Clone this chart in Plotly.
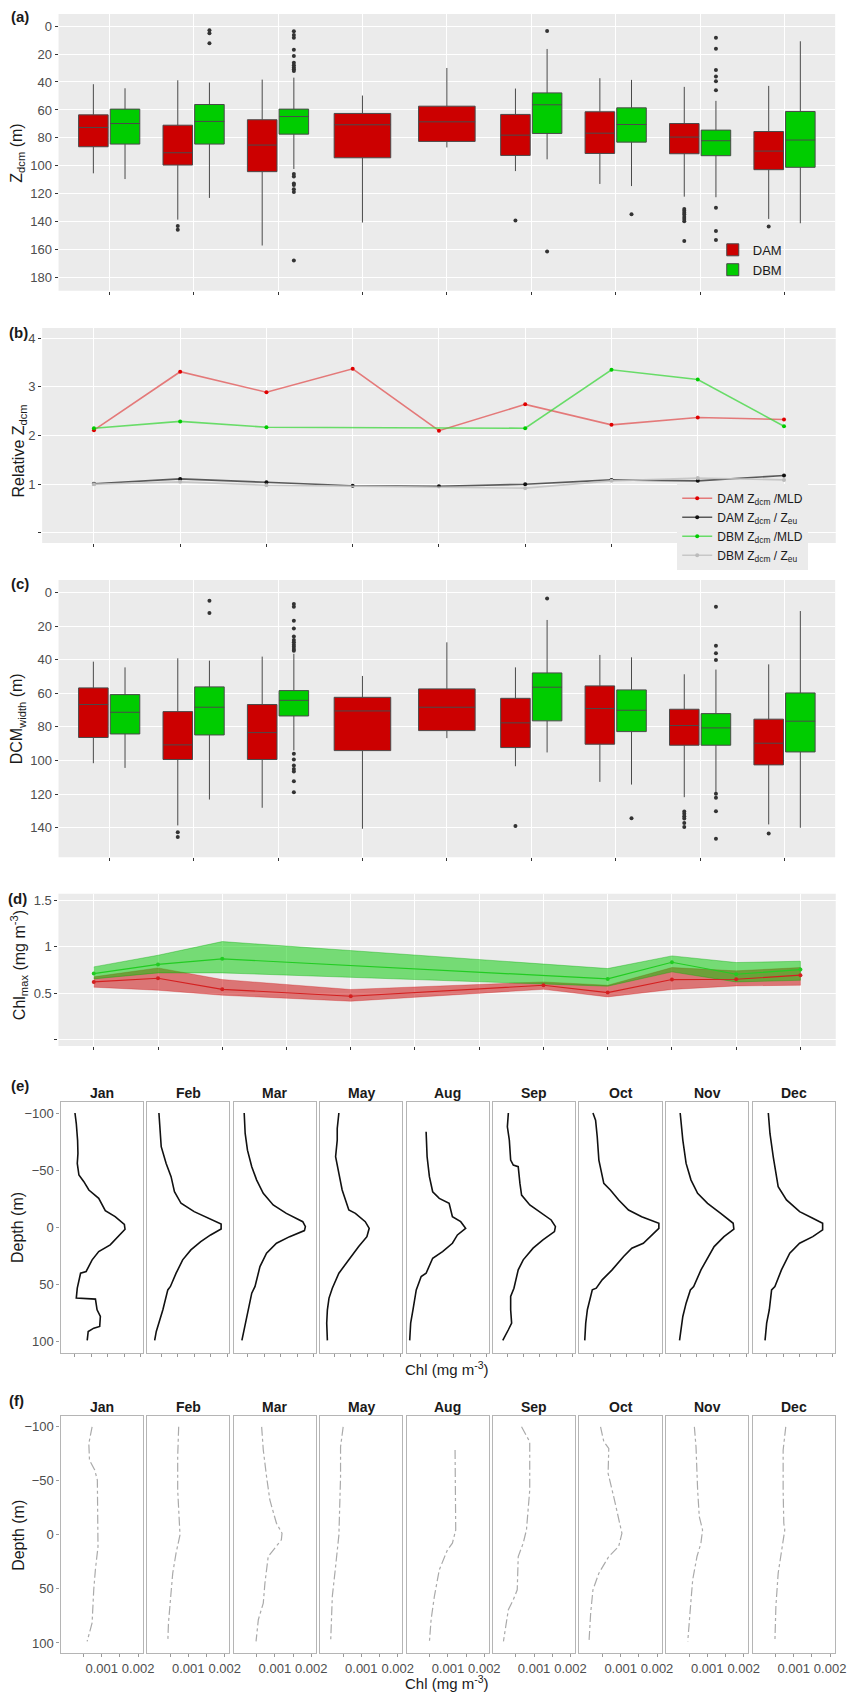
import plotly.graph_objects as go

W, H = 859, 1692
NARROW = "Liberation Sans Narrow, Arial Narrow, Liberation Sans, Arial, sans-serif"
REG = "Liberation Sans, Arial, sans-serif"

months9 = ["Jan", "Feb", "Mar", "May", "Aug", "Sep", "Oct", "Nov", "Dec"]
month_num = [1, 2, 3, 5, 8, 9, 10, 11, 12]

# ---------------- (a) Z_dcm boxplots (m) ----------------
a_dam_lo = [41.6, 38.8, 38.3, 49.7, 30.0, 44.7, 37.3, 43.5, 42.8]
a_dam_q1 = [63.5, 70.9, 67.0, 62.5, 57.3, 63.2, 61.3, 69.7, 75.4]
a_dam_med = [72.5, 90.6, 85.1, 70.6, 68.5, 78.0, 76.6, 79.4, 89.4]
a_dam_q3 = [86.3, 99.4, 104.1, 94.2, 82.5, 92.5, 91.1, 91.3, 102.7]
a_dam_hi = [105.3, 138.4, 156.9, 140.5, 86.8, 103.7, 112.9, 122.0, 137.9]
a_dbm_lo = [44.5, 40.4, 36.9, None, None, 16.4, 38.5, 53.5, 10.9]
a_dbm_q1 = [59.4, 56.1, 59.4, None, None, 47.8, 58.5, 74.4, 61.1]
a_dbm_med = [69.7, 68.2, 64.7, None, None, 56.3, 70.4, 82.0, 81.5]
a_dbm_q3 = [84.4, 84.4, 77.3, None, None, 76.8, 83.0, 92.7, 101.0]
a_dbm_hi = [109.4, 122.9, 102.2, None, None, 95.3, 114.4, 122.4, 141.0]
a_dam_out_month = ["Feb", "Feb", "Sep", "Nov", "Nov", "Nov", "Nov", "Nov", "Nov", "Nov", "Nov", "Dec"]
a_dam_out_val = [142.9, 145.7, 139.1, 130.8, 132.0, 133.4, 134.8, 136.5, 137.9, 139.6, 153.6, 143.4]
a_dbm_out_month = ["Feb", "Feb", "Feb",
                   "Mar", "Mar", "Mar", "Mar", "Mar", "Mar", "Mar", "Mar", "Mar", "Mar",
                   "Mar", "Mar", "Mar", "Mar", "Mar", "Mar", "Mar",
                   "Sep", "Sep", "Oct",
                   "Nov", "Nov", "Nov", "Nov", "Nov", "Nov", "Nov", "Nov", "Nov"]
a_dbm_out_val = [3.1, 5.2, 12.4,
                 3.8, 6.4, 8.3, 16.9, 21.4, 26.2, 28.1, 29.7, 30.9, 32.1,
                 105.8, 107.5, 112.5, 113.7, 116.7, 118.6, 167.6,
                 3.6, 161.2, 134.6,
                 8.3, 16.2, 31.4, 36.1, 39.5, 45.9, 130.0, 146.5, 152.9]

# ---------------- (b) relative Z_dcm ----------------
b_dam_mld = [2.11, 3.31, 2.89, 3.37, 2.10, 2.64, 2.22, 2.37, 2.33]
b_dam_zeu = [1.01, 1.11, 1.04, 0.97, 0.96, 1.00, 1.09, 1.07, 1.18]
b_dbm_mld = [2.15, 2.29, 2.17, None, None, 2.15, 3.35, 3.15, 2.19]
b_dbm_zeu = [1.00, 1.05, 0.98, None, None, 0.92, 1.07, 1.13, 1.09]

# ---------------- (c) DCM width boxplots (m) ----------------
c_dam_lo = [41.2, 39.2, 38.2, 49.7, 29.7, 44.6, 37.2, 48.7, 42.8]
c_dam_q1 = [56.8, 70.9, 66.7, 62.4, 57.4, 63.0, 55.6, 69.5, 75.4]
c_dam_med = [66.7, 90.7, 83.4, 70.5, 68.3, 77.6, 69.1, 79.2, 89.7]
c_dam_q3 = [86.3, 99.4, 99.4, 94.1, 82.2, 92.3, 90.3, 90.9, 102.6]
c_dam_hi = [101.6, 138.6, 128.1, 140.6, 86.7, 103.4, 112.7, 121.8, 138.0]
c_dbm_lo = [44.6, 40.6, 36.5, None, None, 16.4, 38.6, 45.9, 11.1]
c_dbm_q1 = [60.8, 56.2, 58.4, None, None, 47.9, 58.0, 72.1, 59.8]
c_dbm_med = [71.3, 68.3, 64.2, None, None, 56.4, 70.1, 80.6, 76.6]
c_dbm_q3 = [84.2, 84.8, 73.5, None, None, 76.4, 82.8, 90.9, 94.9]
c_dbm_hi = [104.4, 123.2, 94.0, None, None, 95.2, 114.3, 119.2, 140.0]
c_dam_out_month = ["Feb", "Feb", "Sep", "Nov", "Nov", "Nov", "Nov", "Nov", "Nov", "Dec"]
c_dam_out_val = [142.6, 145.5, 139.0, 130.3, 131.7, 133.1, 134.5, 137.2, 139.6, 143.4]
c_dbm_out_month = ["Feb", "Feb",
                   "Mar", "Mar", "Mar", "Mar", "Mar", "Mar", "Mar", "Mar", "Mar", "Mar", "Mar",
                   "Mar", "Mar", "Mar", "Mar", "Mar", "Mar", "Mar",
                   "Sep", "Oct",
                   "Nov", "Nov", "Nov", "Nov", "Nov", "Nov", "Nov", "Nov"]
c_dbm_out_val = [5.0, 12.3,
                 6.9, 8.5, 16.8, 21.4, 26.3, 28.3, 29.7, 31.1, 32.3, 33.7, 34.7,
                 96.0, 99.4, 103.0, 105.0, 106.5, 112.3, 118.8,
                 3.6, 134.3,
                 8.5, 31.7, 36.2, 40.2, 119.8, 122.2, 130.1, 146.5]

# ---------------- (d) Chl max (mg m-3) ----------------
d_dam_mean = [0.62, 0.66, 0.54, 0.465, 0.584, 0.505, 0.646, 0.649, 0.693]
d_dam_hi = [0.675, 0.772, 0.646, 0.538, 0.62, 0.584, 0.776, 0.74, 0.776]
d_dam_lo = [0.563, 0.53, 0.476, 0.411, 0.54, 0.458, 0.538, 0.577, 0.584]
d_dbm_mean = [0.71, 0.81, 0.87, None, None, 0.653, 0.833, 0.703, 0.754]
d_dbm_hi = [0.783, 0.909, 1.057, None, None, 0.765, 0.902, 0.83, 0.844]
d_dbm_lo = [0.653, 0.718, 0.718, None, None, 0.574, 0.729, 0.62, 0.638]

# ---------------- (e) mean Chl profiles vs depth relative to DCM ----------------
e_jan_z = [-100, -90.8, -76, -64.6, -55.9, -45.7, -39.9, -32.6, -25.3, -14.6, -9.3, -2.6, 1.7, 8.2, 15.4, 21.3, 28.5, 38.7, 40.2, 53.3, 62.0, 62.9, 72.2, 78.1, 86.8, 88.3, 91.2, 99.0]
e_jan_chl = [0.203, 0.219, 0.235, 0.239, 0.231, 0.251, 0.311, 0.372, 0.492, 0.572, 0.692, 0.804, 0.812, 0.732, 0.632, 0.492, 0.412, 0.339, 0.271, 0.231, 0.219, 0.452, 0.472, 0.512, 0.504, 0.432, 0.364, 0.352]
e_feb_z = [-100, -87.9, -70.5, -55.9, -44.3, -31.1, -21.0, -13.7, -7.9, -2.9, 1.5, 6.7, 12.5, 19.8, 28.5, 40.2, 51.8, 54.8, 72.2, 81.0, 91.2, 99.0]
e_feb_chl = [0.171, 0.179, 0.199, 0.259, 0.319, 0.36, 0.44, 0.6, 0.78, 0.928, 0.928, 0.8, 0.68, 0.56, 0.46, 0.38, 0.311, 0.279, 0.219, 0.179, 0.139, 0.119]
e_mar_z = [-100, -82.1, -67.5, -53.0, -41.3, -29.7, -19.5, -12.2, -4.9, -0.6, 2.9, 8.2, 14.0, 22.7, 34.4, 51.8, 57.7, 72.2, 83.9, 99.0]
e_mar_chl = [0.155, 0.167, 0.195, 0.247, 0.307, 0.387, 0.508, 0.668, 0.868, 0.9, 0.888, 0.708, 0.548, 0.427, 0.347, 0.287, 0.247, 0.207, 0.167, 0.127]
e_may_z = [-100, -86.5, -76.3, -61.7, -47.2, -32.6, -15.1, -12.2, -4.9, 0.9, 8.2, 16.9, 28.5, 40.2, 53.3, 62.0, 72.2, 83.9, 99.0]
e_may_chl = [0.255, 0.235, 0.235, 0.215, 0.255, 0.295, 0.376, 0.456, 0.576, 0.624, 0.596, 0.496, 0.376, 0.255, 0.175, 0.135, 0.115, 0.107, 0.115]
e_aug_z = [-83.6, -61.7, -44.3, -31.1, -25.3, -21.0, -9.3, -4.9, 0.9, 6.7, 14.0, 21.3, 27.1, 40.2, 43.1, 54.8, 72.2, 83.9, 99.0]
e_aug_chl = [0.263, 0.275, 0.303, 0.343, 0.423, 0.543, 0.583, 0.684, 0.744, 0.644, 0.583, 0.463, 0.343, 0.263, 0.203, 0.143, 0.103, 0.075, 0.063]
e_sep_z = [-100, -87.9, -76.3, -58.8, -54.4, -53.0, -38.4, -28.2, -19.5, -12.2, -6.4, -0.6, 3.8, 11.1, 18.3, 28.5, 37.3, 53.3, 60.6, 72.2, 83.9, 89.7, 99.0]
e_sep_chl = [0.215, 0.203, 0.227, 0.243, 0.275, 0.335, 0.356, 0.376, 0.476, 0.616, 0.736, 0.788, 0.776, 0.636, 0.516, 0.396, 0.335, 0.283, 0.243, 0.243, 0.255, 0.215, 0.147]
e_oct_z = [-100, -93.7, -79.2, -58.8, -38.4, -32.6, -23.9, -15.1, -9.3, -3.5, 0.9, 6.7, 14.0, 18.3, 25.6, 37.3, 46.0, 53.3, 54.8, 72.2, 83.9, 99.0]
e_oct_chl = [0.191, 0.223, 0.243, 0.263, 0.323, 0.403, 0.504, 0.624, 0.784, 0.993, 0.993, 0.904, 0.804, 0.664, 0.564, 0.424, 0.303, 0.231, 0.183, 0.123, 0.103, 0.091]
e_nov_z = [-100, -76.3, -55.9, -41.3, -29.7, -21.0, -12.2, -3.5, 1.7, 8.2, 16.9, 27.1, 37.3, 51.8, 54.8, 66.4, 78.1, 99.0]
e_nov_chl = [0.199, 0.231, 0.271, 0.331, 0.411, 0.532, 0.692, 0.844, 0.852, 0.732, 0.612, 0.532, 0.452, 0.363, 0.323, 0.271, 0.231, 0.191]
e_dec_z = [-100, -82.1, -61.7, -35.5, -23.9, -13.7, -7.9, -3.5, 2.3, 8.2, 14.0, 22.7, 37.3, 51.8, 54.8, 72.2, 83.9, 99.0]
e_dec_chl = [0.219, 0.239, 0.279, 0.339, 0.44, 0.6, 0.76, 0.88, 0.88, 0.76, 0.6, 0.48, 0.379, 0.299, 0.259, 0.231, 0.199, 0.179]

# ---------------- (f) Chl profiles (mg m-3) ----------------
f_jan_z = [-100, -84.6, -69.2, -60, -50.8, -26.2, 0, 10.8, 32.3, 50.8, 81.5, 98.5]
f_jan_chl = [0.000737, 0.000647, 0.000665, 0.000809, 0.000881, 0.000881, 0.000899, 0.000899, 0.000827, 0.000782, 0.000737, 0.000601]
f_feb_z = [-100, -72.3, -41.5, -10.8, 0, 16.9, 35.4, 60, 81.5, 98.5]
f_feb_chl = [0.000737, 0.00071, 0.00071, 0.000755, 0.000773, 0.000665, 0.000574, 0.000511, 0.000457, 0.000439]
f_mar_z = [-100, -78.5, -53.8, -32.3, -10.8, -1.5, 4.6, 13.8, 20, 44.6, 63.1, 78.5, 98.5]
f_mar_chl = [0.000638, 0.000683, 0.000773, 0.000863, 0.001044, 0.001197, 0.001179, 0.000953, 0.000818, 0.000728, 0.000683, 0.000547, 0.000484]
f_may_z = [-100, -81.5, -53.8, -13.8, 0, 29.2, 56.9, 98.5]
f_may_chl = [0.000502, 0.00043, 0.00043, 0.000403, 0.000385, 0.000294, 0.000204, 0.000159]
f_aug_z = [-78.5, -41.5, -4.6, 7.7, 13.8, 32.3, 56.9, 78.5, 98.5]
f_aug_chl = [0.001197, 0.001215, 0.001215, 0.001124, 0.000989, 0.000764, 0.000629, 0.000539, 0.000494]
f_sep_z = [-100, -86.2, -41.5, -4.6, 7.7, 20, 50.8, 60, 69.2, 98.5]
f_sep_chl = [0.000656, 0.000881, 0.000881, 0.000791, 0.000701, 0.000565, 0.000538, 0.00043, 0.000294, 0.000159]
f_oct_z = [-100, -86.2, -80, -56.9, -35.4, -13.8, -1.5, 10.8, 20, 35.4, 50.8, 72.3, 98.5]
f_oct_chl = [0.000448, 0.000538, 0.000674, 0.000656, 0.000809, 0.000945, 0.001035, 0.000945, 0.000674, 0.000403, 0.00024, 0.000177, 0.000132]
f_nov_z = [-100, -81.5, -41.5, -16.9, -4.6, 7.7, 20, 41.5, 60, 98.5]
f_nov_chl = [0.000647, 0.000692, 0.000737, 0.000782, 0.000872, 0.000827, 0.000719, 0.000601, 0.000556, 0.000466]
f_dec_z = [-100, -78.5, -41.5, -10.8, -4.6, 13.8, 35.4, 66.2, 98.5]
f_dec_chl = [0.000782, 0.00071, 0.00071, 0.000728, 0.000755, 0.000665, 0.000574, 0.000511, 0.000484]

e_profiles = [(e_jan_z, e_jan_chl), (e_feb_z, e_feb_chl), (e_mar_z, e_mar_chl), (e_may_z, e_may_chl),
              (e_aug_z, e_aug_chl), (e_sep_z, e_sep_chl), (e_oct_z, e_oct_chl), (e_nov_z, e_nov_chl),
              (e_dec_z, e_dec_chl)]
f_profiles = [(f_jan_z, f_jan_chl), (f_feb_z, f_feb_chl), (f_mar_z, f_mar_chl), (f_may_z, f_may_chl),
              (f_aug_z, f_aug_chl), (f_sep_z, f_sep_chl), (f_oct_z, f_oct_chl), (f_nov_z, f_nov_chl),
              (f_dec_z, f_dec_chl)]

# ---------------- styling constants ----------------
DAM_FILL = "#CC0000"
DBM_FILL = "#00CC00"
PANEL_BG = "#EBEBEB"
TICK_FONT = dict(family=NARROW, size=13, color="#4D4D4D")
DODGE = 0.1875
PAIR_W = 0.35
SINGLE_W = 0.67


def px(x):
    return x / W


def py(y):
    return 1 - y / H


fig = go.Figure()
layout = dict(width=W, height=H, margin=dict(l=0, r=0, t=0, b=0),
              paper_bgcolor="white", plot_bgcolor="white",
              font=dict(family=NARROW, size=13, color="#222"),
              showlegend=True)
shapes = []
annotations = []


def gg_axes(n, xdom, ydom, xkw, ykw):
    sfx = "" if n == 1 else str(n)
    base = dict(showgrid=True, gridcolor="white", gridwidth=1, zeroline=False, showline=False,
                ticks="outside", ticklen=3, tickwidth=1, tickcolor="#333333", tickfont=TICK_FONT)
    xa = dict(base, domain=[px(xdom[0]), px(xdom[1])], anchor="y" + sfx, showticklabels=False)
    xa.update(xkw)
    ya = dict(base, domain=[py(ydom[1]), py(ydom[0])], anchor="x" + sfx)
    ya.update(ykw)
    layout["xaxis" + sfx] = xa
    layout["yaxis" + sfx] = ya
    shapes.append(dict(type="rect", xref="x%s domain" % sfx, yref="y%s domain" % sfx,
                       x0=0, x1=1, y0=0, y1=1, fillcolor=PANEL_BG, line=dict(width=0), layer="below"))


def add_boxpanel(n, lo1, q11, me1, q31, hi1, lo2, q12, me2, q32, hi2,
                 out1_m, out1_v, out2_m, out2_v, legend_on):
    sfx = "" if n == 1 else str(n)
    xa, ya = "x" + sfx, "y" + sfx
    pos = {m: i + 1 for i, m in enumerate(months9)}
    paired = [i for i in range(9) if q12[i] is not None]
    single = [i for i in range(9) if q12[i] is None]
    has_dbm = {months9[i]: (q12[i] is not None) for i in range(9)}
    common = dict(whiskerwidth=0, boxpoints=False, hoverinfo="skip", xaxis=xa, yaxis=ya,
                  line=dict(color="#4A4A4A", width=1))
    fig.add_trace(go.Box(x=[pos[months9[i]] - DODGE for i in paired],
                         lowerfence=[lo1[i] for i in paired], q1=[q11[i] for i in paired],
                         median=[me1[i] for i in paired], q3=[q31[i] for i in paired],
                         upperfence=[hi1[i] for i in paired], width=PAIR_W, fillcolor=DAM_FILL,
                         name="DAM", showlegend=legend_on, legendgroup="dam", **common))
    fig.add_trace(go.Box(x=[pos[months9[i]] for i in single],
                         lowerfence=[lo1[i] for i in single], q1=[q11[i] for i in single],
                         median=[me1[i] for i in single], q3=[q31[i] for i in single],
                         upperfence=[hi1[i] for i in single], width=SINGLE_W, fillcolor=DAM_FILL,
                         name="DAM", showlegend=False, legendgroup="dam", **common))
    fig.add_trace(go.Box(x=[pos[months9[i]] + DODGE for i in paired],
                         lowerfence=[lo2[i] for i in paired], q1=[q12[i] for i in paired],
                         median=[me2[i] for i in paired], q3=[q32[i] for i in paired],
                         upperfence=[hi2[i] for i in paired], width=PAIR_W, fillcolor=DBM_FILL,
                         name="DBM", showlegend=legend_on, legendgroup="dbm", **common))
    x1 = [pos[m] - (DODGE if has_dbm[m] else 0) for m in out1_m]
    x2 = [pos[m] + DODGE for m in out2_m]
    fig.add_trace(go.Scatter(x=x1 + x2, y=out1_v + out2_v, mode="markers",
                             marker=dict(color="#333333", size=4), showlegend=False,
                             hoverinfo="skip", xaxis=xa, yaxis=ya))


# ---------------- panel (a) ----------------
gg_axes(1, (59.3, 846), (13, 290),
        dict(range=[0.4, 9.6], tickvals=list(range(1, 10))),
        dict(range=[189.3, -8.6], tickvals=list(range(0, 181, 20))))
add_boxpanel(1, a_dam_lo, a_dam_q1, a_dam_med, a_dam_q3, a_dam_hi,
             a_dbm_lo, a_dbm_q1, a_dbm_med, a_dbm_q3, a_dbm_hi,
             a_dam_out_month, a_dam_out_val, a_dbm_out_month, a_dbm_out_val, True)

# ---------------- panel (b) ----------------
gg_axes(2, (42.7, 846.6), (327.3, 542.3),
        dict(type="category", categoryarray=months9, categoryorder="array", range=[-0.6, 8.6]),
        dict(range=[-0.205, 4.205], tickvals=[0, 1, 2, 3, 4], ticktext=["", "1", "2", "3", "4"]))
b_series = [
    ("DAM Z<sub>dcm</sub> /MLD", b_dam_mld, "rgba(225,60,60,0.65)", "#E00000"),
    ("DAM Z<sub>dcm</sub> / Z<sub>eu</sub>", b_dam_zeu, "rgba(40,40,40,0.75)", "#111111"),
    ("DBM Z<sub>dcm</sub> /MLD", b_dbm_mld, "rgba(60,215,60,0.75)", "#00CC00"),
    ("DBM Z<sub>dcm</sub> / Z<sub>eu</sub>", b_dbm_zeu, "rgba(195,195,195,0.9)", "#BBBBBB"),
]
for name, vals, lc, mc in b_series:
    fig.add_trace(go.Scatter(x=months9, y=vals, mode="lines+markers", name=name,
                             line=dict(color=lc, width=1.6), marker=dict(color=mc, size=4),
                             connectgaps=True, xaxis="x2", yaxis="y2", legend="legend2",
                             hoverinfo="skip"))

# ---------------- panel (c) ----------------
gg_axes(3, (59.3, 846), (579.3, 856.7),
        dict(range=[0.4, 9.6], tickvals=list(range(1, 10))),
        dict(range=[157.5, -7.4], tickvals=list(range(0, 141, 20))))
add_boxpanel(3, c_dam_lo, c_dam_q1, c_dam_med, c_dam_q3, c_dam_hi,
             c_dbm_lo, c_dbm_q1, c_dbm_med, c_dbm_q3, c_dbm_hi,
             c_dam_out_month, c_dam_out_val, c_dbm_out_month, c_dbm_out_val, False)

# ---------------- panel (d) ----------------
gg_axes(4, (59.2, 846.6), (893.3, 1045.7),
        dict(range=[0.45, 12.55], tickvals=list(range(1, 13))),
        dict(range=[-0.075, 1.575], tickvals=[0, 0.5, 1, 1.5], ticktext=["", "0.5", "1", "1.5"]))


def ribbon(mon, lo, hi, fillc, edgec):
    pts = [(m, l, h) for m, l, h in zip(mon, lo, hi) if l is not None]
    xs = [p[0] for p in pts] + [p[0] for p in reversed(pts)]
    ys = [p[2] for p in pts] + [p[1] for p in reversed(pts)]
    fig.add_trace(go.Scatter(x=xs, y=ys, fill="toself", fillcolor=fillc, mode="lines",
                             line=dict(color=edgec, width=0.8), showlegend=False,
                             hoverinfo="skip", xaxis="x4", yaxis="y4"))


def meanline(mon, mean, color):
    pts = [(m, v) for m, v in zip(mon, mean) if v is not None]
    fig.add_trace(go.Scatter(x=[p[0] for p in pts], y=[p[1] for p in pts], mode="lines+markers",
                             line=dict(color=color, width=1.2), marker=dict(color=color, size=4),
                             showlegend=False, hoverinfo="skip", xaxis="x4", yaxis="y4"))


ribbon(month_num, d_dam_lo, d_dam_hi, "rgba(204,0,0,0.5)", "rgba(204,0,0,0.35)")
ribbon(month_num, d_dbm_lo, d_dbm_hi, "rgba(0,204,0,0.5)", "rgba(0,170,0,0.45)")
meanline(month_num, d_dam_mean, "#D42020")
meanline(month_num, d_dbm_mean, "#22CC22")

# ---------------- panels (e) and (f): facets ----------------
facet_left = [61.3, 149.0, 236.7, 324.3, 412.0, 499.3, 587.0, 674.7, 762.3]
FACET_W = 83.4


def facet_row(start_n, profiles, ydom, xrange_, xtickvals, xticktext, showxlabels, line_style, strip_y):
    for k, (z, chl) in enumerate(profiles):
        n = start_n + k
        sfx = str(n)
        L = facet_left[k]
        xa = dict(domain=[px(L), px(L + FACET_W)], anchor="y" + sfx, range=xrange_,
                  showgrid=False, zeroline=False, showline=True, mirror=True,
                  linecolor="#B5B5B5", linewidth=1.3, ticks="outside", ticklen=3,
                  tickcolor="#9A9A9A", tickvals=xtickvals, ticktext=xticktext,
                  showticklabels=showxlabels, tickfont=TICK_FONT)
        ya = dict(domain=[py(ydom[1]), py(ydom[0])], anchor="x" + sfx, range=[109.6, -109.6],
                  showgrid=False, zeroline=False, showline=True, mirror=True,
                  linecolor="#B5B5B5", linewidth=1.3, tickvals=[-100, -50, 0, 50, 100],
                  ticks="outside" if k == 0 else "", ticklen=3, tickcolor="#9A9A9A",
                  showticklabels=(k == 0), tickfont=TICK_FONT)
        layout["xaxis" + sfx] = xa
        layout["yaxis" + sfx] = ya
        fig.add_trace(go.Scatter(x=chl, y=z, mode="lines", line=line_style, showlegend=False,
                                 hoverinfo="skip", xaxis="x" + sfx, yaxis="y" + sfx))
        annotations.append(dict(text="<b>%s</b>" % months9[k], x=px(L + FACET_W / 2), y=py(strip_y),
                                xref="paper", yref="paper", showarrow=False, xanchor="center",
                                yanchor="middle", font=dict(family=NARROW, size=14, color="#1A1A1A")))


facet_row(5, e_profiles, (1101.7, 1352.3), [0.027, 1.029], [0.2, 0.4, 0.6, 0.8, 1.0], None, False,
          dict(color="#111111", width=1.6), 1092.7)
facet_row(14, f_profiles, (1416.3, 1653.3), [-0.00013, 0.00213], [0.0005, 0.001, 0.0015, 0.002],
          ["", "0.001", "", "0.002"], True, dict(color="#AAAAAA", width=1.2, dash="dashdot"), 1407.3)

# ---------------- text annotations ----------------
def label(text, x, y, size=15, angle=0, family=REG, color="#1A1A1A"):
    annotations.append(dict(text=text, x=px(x), y=py(y), xref="paper", yref="paper", showarrow=False,
                            xanchor="center", yanchor="middle", textangle=angle,
                            font=dict(family=family, size=size, color=color)))


for t, x, y in [("(a)", 20, 16), ("(b)", 19, 332), ("(c)", 20, 583), ("(d)", 18, 898),
                ("(e)", 20, 1085), ("(f)", 17, 1400)]:
    label("<b>%s</b>" % t, x, y, size=15, family=NARROW)

label("Z<sub>dcm</sub> (m)", 18, 152, size=16, angle=-90)
label("Relative Z<sub>dcm</sub>", 20, 450, size=16, angle=-90)
label("DCM<sub>width</sub> (m)", 18, 718, size=16, angle=-90)
label("Chl<sub>max</sub> (mg m<sup>-3</sup>)", 20, 965, size=16, angle=-90)
label("Depth (m)", 18, 1227, size=16, angle=-90)
label("Depth (m)", 18, 1535, size=16, angle=-90)
label("Chl (mg m<sup>-3</sup>)", 453, 1368, size=15, family=NARROW)
label("Chl (mg m<sup>-3</sup>)", 453, 1682, size=15, family=NARROW)

layout["shapes"] = shapes
layout["annotations"] = annotations
layout["legend"] = dict(x=px(722), y=py(234), xanchor="left", yanchor="top",
                        bgcolor="rgba(0,0,0,0)", font=dict(family=NARROW, size=13, color="#1A1A1A"),
                        tracegroupgap=0, itemwidth=30)
layout["legend2"] = dict(x=px(686), y=py(483), xanchor="left", yanchor="top",
                         bgcolor=PANEL_BG, font=dict(family=NARROW, size=12, color="#1A1A1A"),
                         tracegroupgap=0, itemwidth=30)

fig.update_layout(**layout)
fig.write_html("out.html", config={"displayModeBar": False},
               post_script="document.body.style.margin='0';")
